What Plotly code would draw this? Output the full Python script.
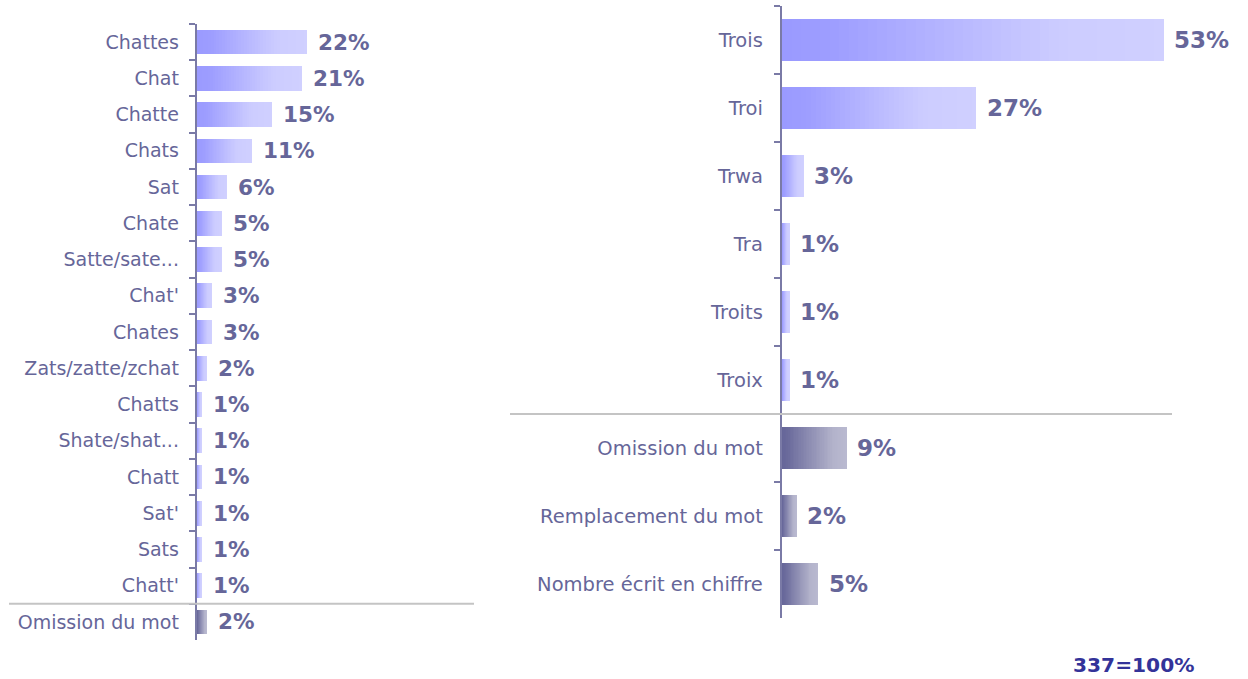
import plotly.graph_objects as go
from plotly.colors import sample_colorscale

# ---------------- data ----------------
left_labels = ["Chattes", "Chat", "Chatte", "Chats", "Sat", "Chate", "Satte/sate...",
               "Chat'", "Chates", "Zats/zatte/zchat", "Chatts", "Shate/shat...",
               "Chatt", "Sat'", "Sats", "Chatt'", "Omission du mot"]
left_values = [22, 21, 15, 11, 6, 5, 5, 3, 3, 2, 1, 1, 1, 1, 1, 1, 2]
left_groups = ["word"] * 16 + ["other"]

right_labels = ["Trois", "Troi", "Trwa", "Tra", "Troits", "Troix",
                "Omission du mot", "Remplacement du mot", "Nombre écrit en chiffre"]
right_values = [53, 27, 3, 1, 1, 1, 9, 2, 5]
right_groups = ["word"] * 6 + ["other"] * 3

base_note = "337=100%"

# ---------------- style ----------------
W, H = 1248, 679
N_SEG = 40
FONT = "Verdana, DejaVu Sans, sans-serif"
LABEL_COLOR = "#666699"
AXIS_COLOR = "#7a7aa6"
SEP_COLOR = "#c4c4c4"
scales = {
    "word": [[0, "#9a9aff"], [0.12, "#9d9dff"], [0.72, "#ccccff"], [1, "#d0d0ff"]],
    "other": [[0, "#666699"], [0.08, "#69699b"], [0.8, "#b3b3cb"], [1, "#b9b9d0"]],
}

fig = go.Figure()


def add_panel(labels, values, groups, xa, ya, width):
    for k in range(N_SEG):
        t = (k + 0.5) / N_SEG
        cols = [sample_colorscale(scales[g], [t])[0] for g in groups]
        fig.add_trace(go.Bar(
            y=labels, x=[v / N_SEG for v in values], orientation="h",
            marker=dict(color=cols, line=dict(width=0)),
            width=width, xaxis=xa, yaxis=ya,
            hoverinfo="skip", showlegend=False,
        ))


add_panel(left_labels, left_values, left_groups, "x", "y", 0.68)
add_panel(right_labels, right_values, right_groups, "x2", "y2", 0.63)

annotations = []
for lab, v in zip(left_labels, left_values):
    annotations.append(dict(x=v, y=lab, xref="x", yref="y", text=f"{v}%",
                            showarrow=False, xanchor="left", xshift=9,
                            font=dict(family=FONT, size=21.5, color=LABEL_COLOR, weight="bold")))
for lab, v in zip(right_labels, right_values):
    annotations.append(dict(x=v, y=lab, xref="x2", yref="y2", text=f"{v}%",
                            showarrow=False, xanchor="left", xshift=9,
                            font=dict(family=FONT, size=23, color=LABEL_COLOR, weight="bold")))
annotations.append(dict(x=1133 / W, y=1 - 665 / H, xref="paper", yref="paper",
                        text=base_note, showarrow=False, xanchor="center", yanchor="middle",
                        font=dict(family=FONT, size=20.2, color="#333399", weight="bold")))

shapes = [
    dict(type="line", xref="paper", yref="y", x0=9 / W, x1=474 / W,
         y0=len(left_labels) - 1.5, y1=len(left_labels) - 1.5,
         line=dict(color=SEP_COLOR, width=2)),
    dict(type="line", xref="paper", yref="y2", x0=510 / W, x1=1172 / W,
         y0=5.5, y1=5.5, line=dict(color=SEP_COLOR, width=2)),
]

xcommon = dict(visible=False, showgrid=False, zeroline=False, fixedrange=True)
ycommon = dict(type="category", autorange="reversed", showgrid=False, zeroline=False,
               showline=True, linecolor=AXIS_COLOR, linewidth=1.5,
               ticks="outside", ticklen=6, tickcolor=AXIS_COLOR, tickwidth=1.5,
               tickson="boundaries", fixedrange=True,
               color=LABEL_COLOR, automargin=False)

fig.update_layout(
    width=W, height=H,
    margin=dict(l=0, r=0, t=0, b=0),
    paper_bgcolor="white", plot_bgcolor="white",
    barmode="stack", bargap=0,
    font=dict(family=FONT, color=LABEL_COLOR),
    xaxis=dict(domain=[196.5 / W, 474 / W], range=[0, (474 - 196.5) / 5.0], anchor="y", **xcommon),
    yaxis=dict(domain=[1 - 640 / H, 1 - 24 / H], anchor="x", ticklabelstandoff=12,
               tickfont=dict(family=FONT, size=19, color=LABEL_COLOR), **ycommon),
    xaxis2=dict(domain=[781.5 / W, 1172 / W], range=[0, (1172 - 781.5) / 7.2], anchor="y2", **xcommon),
    yaxis2=dict(domain=[1 - 618 / H, 1 - 6 / H], anchor="x2", ticklabelstandoff=13,
                tickfont=dict(family=FONT, size=19.5, color=LABEL_COLOR), **ycommon),
    annotations=annotations,
    shapes=shapes,
)

fig.write_html("out.html", config={"displayModeBar": False},
               post_script="document.body.style.margin='0';document.body.style.overflow='hidden';")
